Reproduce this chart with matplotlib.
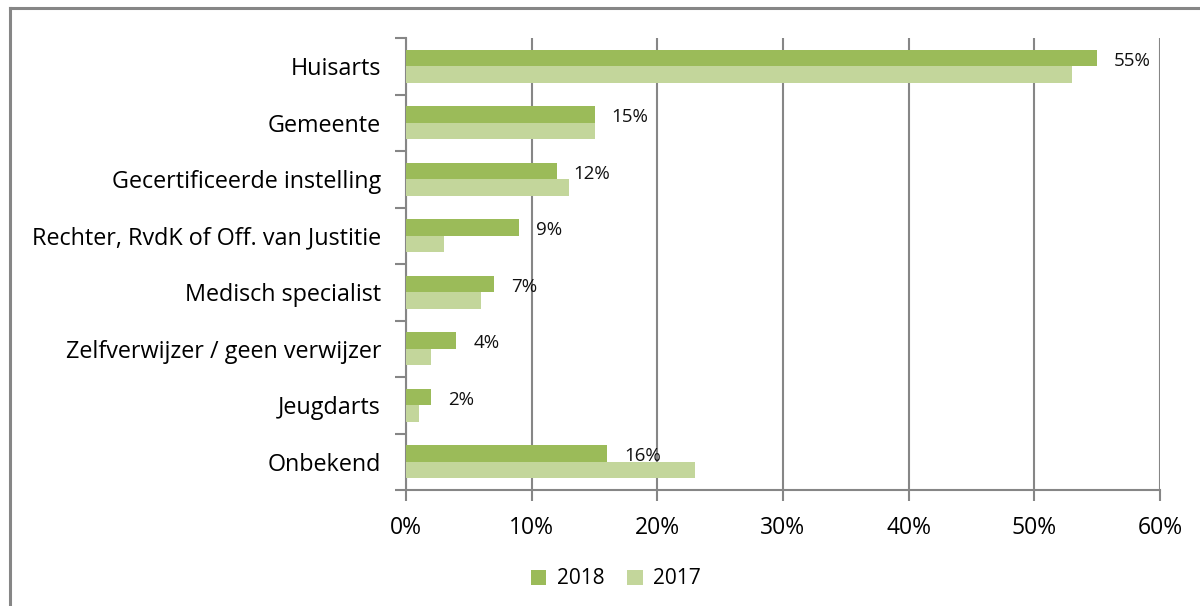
import numpy as np
import matplotlib.pyplot as plt
from matplotlib.lines import Line2D
from matplotlib.ticker import FuncFormatter, FixedLocator

# Verwijzers en percentages
categories = ['Huisarts', 'Gemeente', 'Gecertificeerde instelling',
              'Rechter, RvdK of Off. van Justitie', 'Medisch specialist',
              'Zelfverwijzer / geen verwijzer', 'Jeugdarts', 'Onbekend']
values_2018 = [55, 15, 12, 9, 7, 4, 2, 16]
values_2017 = [53, 15, 13, 3, 6, 2, 1, 23]
labels_2018 = ['55%', '15%', '12%', '9%', '7%', '4%', '2%', '16%']
x_ticks = [0, 10, 20, 30, 40, 50, 60]

col_2018 = '#9BBB59'
col_2017 = '#C3D69B'
grey = '#868686'
font = ['Open Sans', 'DejaVu Sans']
plt.rcParams['font.family'] = font

fig = plt.figure(figsize=(12, 6.06), dpi=100)
ax = fig.add_axes([406 / 1200, 1 - 490 / 606, 754 / 1200, 452 / 606])

y = np.arange(len(categories))
h = 0.295
ax.barh(y - h / 2, values_2018, height=h, color=col_2018, label='2018', zorder=3)
ax.barh(y + h / 2, values_2017, height=h, color=col_2017, label='2017', zorder=3)

for i, v in enumerate(values_2018):
    ax.text(v + 1.35, i - 0.1, labels_2018[i], va='center', ha='left',
            fontsize=13.5, color='#111111', zorder=4)

ax.set_xlim(0, 60)
ax.set_ylim(len(categories) - 0.5, -0.5)
ax.set_xticks(x_ticks)
ax.xaxis.set_major_formatter(FuncFormatter(lambda v, p: f'{v:.0f}%'))
ax.tick_params(axis='x', length=8, width=1.5, color=grey, pad=11,
               labelsize=16.5, direction='out')

# categorie labels op de centra, maatstreepjes op de grenzen
ax.set_yticks(y)
ax.set_yticklabels(categories)
ax.tick_params(axis='y', which='major', length=0, pad=18, labelsize=16.8)
ax.yaxis.set_minor_locator(FixedLocator(np.arange(-0.5, len(categories), 1)))
ax.tick_params(axis='y', which='minor', length=8, width=1.5, color=grey)

ax.grid(axis='x', color=grey, linewidth=1.5, zorder=0)
ax.set_axisbelow(True)
for s in ['top', 'right']:
    ax.spines[s].set_visible(False)
for s in ['left', 'bottom']:
    ax.spines[s].set_color(grey)
    ax.spines[s].set_linewidth(1.5)

leg = fig.legend(loc='center', bbox_to_anchor=(616 / 1200, 1 - 579 / 606),
                 ncol=2, frameon=False, fontsize=15, handlelength=0.75,
                 handleheight=0.75, handletextpad=0.5, columnspacing=1.1)

# kader van de grafiek
fig.add_artist(Line2D([10 / 1200, 10 / 1200], [0, 1 - 8 / 606],
                      color=grey, linewidth=2.2, transform=fig.transFigure))
fig.add_artist(Line2D([10 / 1200, 1], [1 - 8 / 606, 1 - 8 / 606],
                      color=grey, linewidth=2.2, transform=fig.transFigure))

fig.savefig('out.png', dpi=100)
